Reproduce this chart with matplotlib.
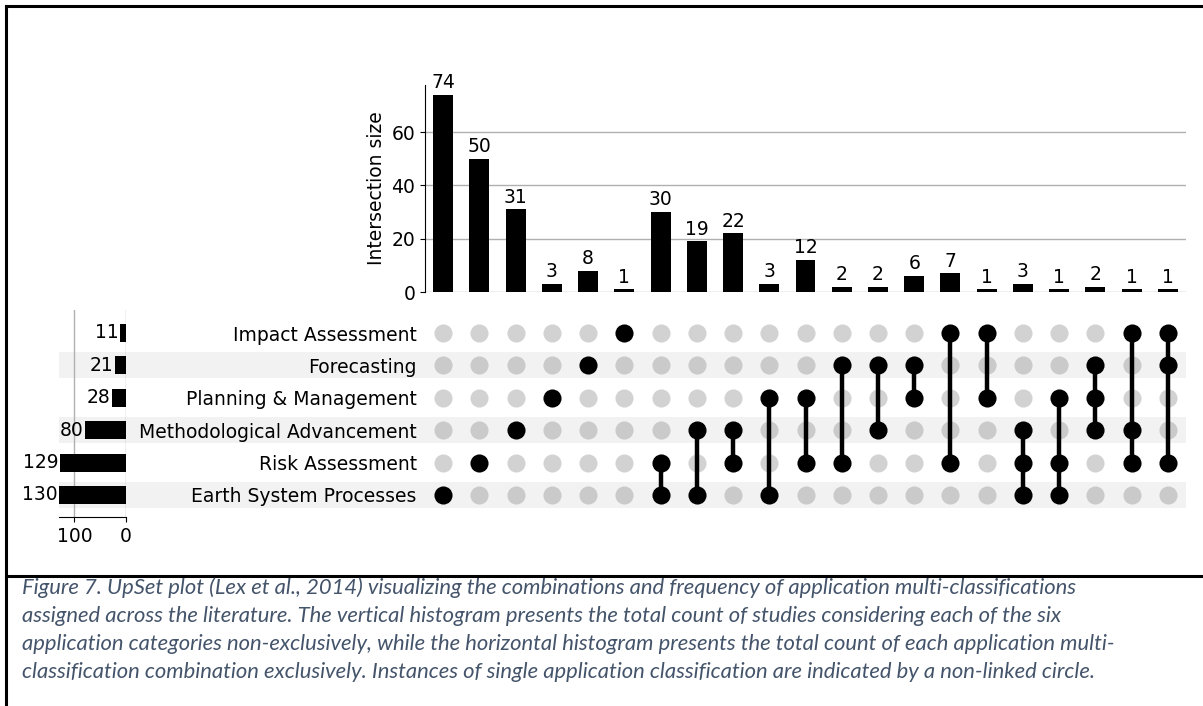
import matplotlib.pyplot as plt
from matplotlib.lines import Line2D
from matplotlib.patches import Rectangle
from matplotlib.transforms import blended_transform_factory

# -------------------------------
# Data
# -------------------------------
# matrix rows, bottom to top
categories = ['Earth System Processes', 'Risk Assessment', 'Methodological Advancement',
              'Planning & Management', 'Forecasting', 'Impact Assessment']
# total studies per category (horizontal bars on the left)
category_totals = [130, 129, 80, 28, 21, 11]

# categories ticked in each column of the matrix, left to right
intersections = [
    ['Earth System Processes'],
    ['Risk Assessment'],
    ['Methodological Advancement'],
    ['Planning & Management'],
    ['Forecasting'],
    ['Impact Assessment'],
    ['Risk Assessment', 'Earth System Processes'],
    ['Methodological Advancement', 'Earth System Processes'],
    ['Methodological Advancement', 'Risk Assessment'],
    ['Planning & Management', 'Earth System Processes'],
    ['Planning & Management', 'Risk Assessment'],
    ['Forecasting', 'Risk Assessment'],
    ['Forecasting', 'Methodological Advancement'],
    ['Forecasting', 'Planning & Management'],
    ['Impact Assessment', 'Risk Assessment'],
    ['Impact Assessment', 'Planning & Management'],
    ['Methodological Advancement', 'Risk Assessment', 'Earth System Processes'],
    ['Planning & Management', 'Risk Assessment', 'Earth System Processes'],
    ['Forecasting', 'Planning & Management', 'Methodological Advancement'],
    ['Impact Assessment', 'Methodological Advancement', 'Risk Assessment'],
    ['Impact Assessment', 'Forecasting', 'Risk Assessment'],
]
intersection_sizes = [74, 50, 31, 3, 8, 1, 30, 19, 22, 3, 12, 2, 2, 6, 7, 1, 3, 1, 2, 1, 1]

caption_lines = [
    'Figure 7. UpSet plot (Lex et al., 2014) visualizing the combinations and frequency of application multi-classifications',
    'assigned across the literature. The vertical histogram presents the total count of studies considering each of the six',
    'application categories non-exclusively, while the horizontal histogram presents the total count of each application multi-',
    'classification combination exclusively. Instances of single application classification are indicated by a non-linked circle.',
]

# -------------------------------
# Layout (pixel boxes -> figure fractions)
# -------------------------------
W, H = 1203, 706
plt.rcParams['font.size'] = 13.5


def px_box(left, top, right, bottom):
    return [left / W, 1 - bottom / H, (right - left) / W, (bottom - top) / H]


fig = plt.figure(figsize=(W / 100, H / 100), dpi=100)

n_cols = len(intersection_sizes)
n_rows = len(categories)
row_top, row_bottom = 333, 495
row_step = (row_bottom - row_top) / (n_rows - 1)

ax_bar = fig.add_axes(px_box(425, 85, 1186, 292))
ax_mat = fig.add_axes(px_box(425, row_top - row_step / 2, 1186, row_bottom + row_step / 2))
ax_tot = fig.add_axes(px_box(59, 310, 126, 517))

# -------------------------------
# Intersection size bars
# -------------------------------
cols = list(range(n_cols))
bars = ax_bar.bar(cols, intersection_sizes, width=0.55, color='black', zorder=3)
ax_bar.bar_label(bars, padding=2)
ax_bar.set_xlim(-0.5, n_cols - 0.5)
ax_bar.set_ylim(0, max(intersection_sizes) * 1.05)
ax_bar.set_yticks([0, 20, 40, 60])
ax_bar.set_xticks([])
ax_bar.set_ylabel('Intersection size')
ax_bar.grid(axis='y', color='#b0b0b0', linewidth=1.0, zorder=0)
for side in ['top', 'right', 'bottom']:
    ax_bar.spines[side].set_visible(False)

# -------------------------------
# Matrix of dots
# -------------------------------
ax_mat.patch.set_alpha(0)
ax_mat.set_xlim(-0.5, n_cols - 0.5)
ax_mat.set_ylim(-0.5, n_rows - 0.5)
for c, members in enumerate(intersections):
    rows = [categories.index(m) for m in members]
    for r in range(n_rows):
        if r not in rows:
            ax_mat.scatter(c, r, s=170, color='#808080', alpha=0.35, lw=0, zorder=2)
    ax_mat.scatter([c] * len(rows), rows, s=170, color='black', lw=0, zorder=4)
    if len(rows) > 1:
        ax_mat.plot([c, c], [min(rows), max(rows)], color='black', lw=3.2, zorder=3)
ax_mat.set_yticks(range(n_rows))
ax_mat.set_yticklabels(categories)
ax_mat.tick_params(axis='y', length=0, pad=6)
ax_mat.set_xticks([])
for side in ax_mat.spines:
    ax_mat.spines[side].set_visible(False)

# shaded bands on every other row, from the totals bars across the matrix
band_tf = blended_transform_factory(fig.transFigure, ax_mat.transData)
for r in range(0, n_rows, 2):
    fig.add_artist(Rectangle((59 / W, r - 0.4), (1186 - 59) / W, 0.8, transform=band_tf,
                             facecolor='#f2f2f2', lw=0, zorder=-1))

# -------------------------------
# Category totals
# -------------------------------
ax_tot.patch.set_alpha(0)
ax_tot.barh(range(n_rows), category_totals, height=0.55, color='black', zorder=3)
for r, v in enumerate(category_totals):
    ax_tot.annotate(str(v), (v, r), xytext=(-1, 0), textcoords='offset points',
                    ha='right', va='center')
ax_tot.set_xlim(130, 0)
ax_tot.set_ylim(-0.5 - (517 - row_bottom - row_step / 2) / row_step,
                n_rows - 0.5 + (row_top - row_step / 2 - 310) / row_step)
ax_tot.set_xticks([100, 0])
ax_tot.set_yticks([])
ax_tot.grid(axis='x', color='#b0b0b0', linewidth=1.0, zorder=0)
for side in ['top', 'right', 'left']:
    ax_tot.spines[side].set_visible(False)

# -------------------------------
# Frame and caption
# -------------------------------
fig.add_artist(Line2D([6 / W, 1], [1 - 6 / H, 1 - 6 / H], color='black', lw=2.2))
fig.add_artist(Line2D([6 / W, 6 / W], [0, 1 - 6 / H], color='black', lw=2.2))
fig.add_artist(Line2D([6 / W, 1], [1 - 576 / H, 1 - 576 / H], color='black', lw=2.2))

for i, line in enumerate(caption_lines):
    fig.text(22 / W, 1 - (588 + 28 * i) / H, line, ha='left', va='center',
             family='Lato', style='italic', fontsize=15.8, color='#44546a')

plt.savefig('out.png', dpi=100)
